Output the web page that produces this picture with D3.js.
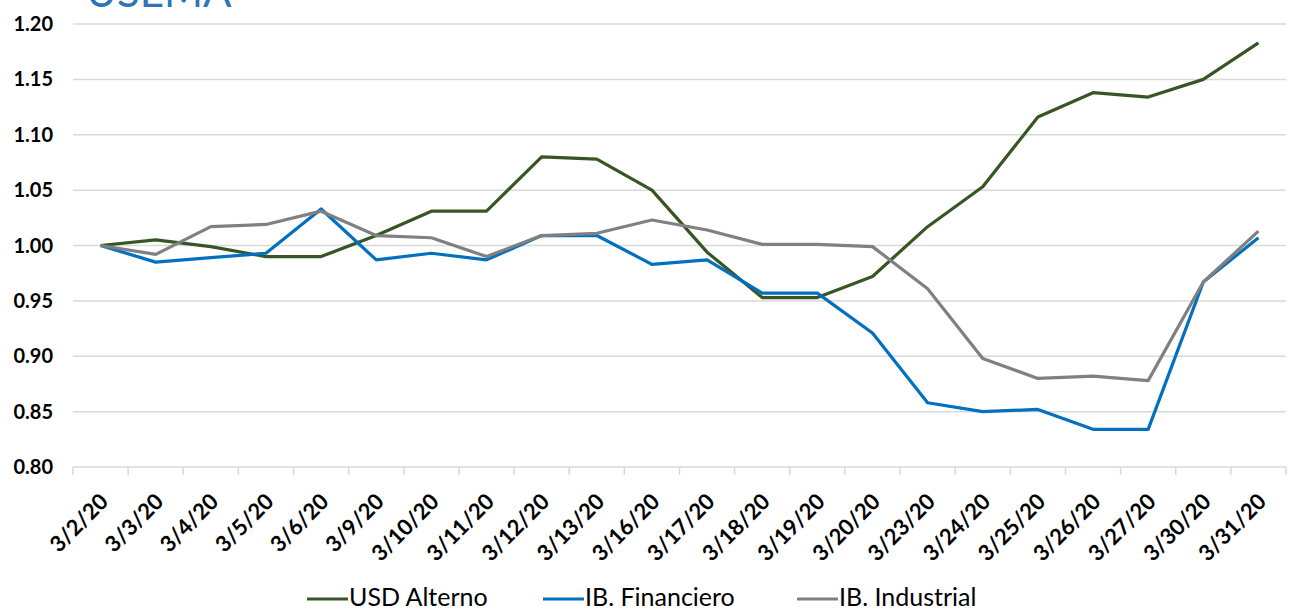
<!DOCTYPE html>
<html>
<head>
<meta charset="utf-8">
<script src="https://cdn.jsdelivr.net/npm/d3@7"></script>
<style>
  body { margin: 0; background: #ffffff; }
  svg { display: block; font-family: Lato, "Open Sans", sans-serif; }
</style>
</head>
<body>
<svg id="chart" width="1295" height="612"></svg>
<script>
const dates = ["3/2/20", "3/3/20", "3/4/20", "3/5/20", "3/6/20", "3/9/20", "3/10/20", "3/11/20",
    "3/12/20", "3/13/20", "3/16/20", "3/17/20", "3/18/20", "3/19/20", "3/20/20", "3/23/20",
    "3/24/20", "3/25/20", "3/26/20", "3/27/20", "3/30/20", "3/31/20"];

const usdAlterno = [1.000, 1.005, 0.999, 0.990, 0.990, 1.009, 1.031, 1.031, 1.080, 1.078, 1.050,
    0.994, 0.953, 0.953, 0.972, 1.017, 1.053, 1.116, 1.138, 1.134, 1.150, 1.183];
const ibFinanciero = [1.000, 0.985, 0.989, 0.993, 1.033, 0.987, 0.993, 0.987, 1.009, 1.009, 0.983,
    0.987, 0.957, 0.957, 0.921, 0.858, 0.850, 0.852, 0.834, 0.834, 0.967, 1.007];
const ibIndustrial = [1.000, 0.992, 1.017, 1.019, 1.031, 1.009, 1.007, 0.990, 1.009, 1.011, 1.023,
    1.014, 1.001, 1.001, 0.999, 0.961, 0.898, 0.880, 0.882, 0.878, 0.967, 1.013];

const yTicks = [0.80, 0.85, 0.90, 0.95, 1.00, 1.05, 1.10, 1.15, 1.20];

const seriesNames = ["USD Alterno", "IB. Financiero", "IB. Industrial"];
const seriesColors = ["#375623", "#0070c0", "#808080"];

const series = [usdAlterno, ibFinanciero, ibIndustrial].map((values, i) => ({
    name: seriesNames[i], color: seriesColors[i], values
}));

const svg = d3.select("#chart"),
    margin = { top: 24, right: 9, bottom: 145, left: 73 },
    width = +svg.attr("width"),
    height = +svg.attr("height"),
    chartWidth = width - margin.left - margin.right,
    chartHeight = height - margin.top - margin.bottom;

const chart = svg.append("g")
    .attr("transform", `translate(${margin.left},${margin.top})`);

const x = d3.scaleBand().domain(dates).range([0, chartWidth]);
const y = d3.scaleLinear().domain([0.80, 1.20]).range([chartHeight, 0]);

// title, cut off at the top edge as in the source image
svg.append("text")
    .attr("x", 86)
    .attr("y", 7)
    .style("font-size", "42px")
    .style("fill", "#2e75b6")
    .text("USEMA");

// gridlines
chart.append("g")
    .selectAll("line")
    .data(yTicks)
    .join("line")
    .attr("x1", 0)
    .attr("x2", chartWidth)
    .attr("y1", d => y(d))
    .attr("y2", d => y(d))
    .attr("stroke", "#d9d9d9")
    .attr("stroke-width", 1.5);

// y labels
chart.append("g")
    .selectAll("text")
    .data(yTicks)
    .join("text")
    .attr("x", -20)
    .attr("y", d => y(d))
    .attr("dy", "0.35em")
    .attr("text-anchor", "end")
    .style("font-size", "20px")
    .style("font-weight", "bold")
    .style("fill", "#000")
    .text(d => d.toFixed(2));

// x axis ticks
const tickPos = dates.map(d => x(d)).concat([chartWidth]);
chart.append("g")
    .selectAll("line")
    .data(tickPos)
    .join("line")
    .attr("x1", d => d)
    .attr("x2", d => d)
    .attr("y1", chartHeight)
    .attr("y2", chartHeight + 8)
    .attr("stroke", "#d9d9d9")
    .attr("stroke-width", 1.5);

chart.append("g")
    .selectAll("text")
    .data(dates)
    .join("text")
    .attr("transform", d => `translate(${x(d) + x.bandwidth() / 2 + 9},${chartHeight + 36}) rotate(-45)`)
    .attr("text-anchor", "end")
    .style("font-size", "22px")
    .style("font-weight", "bold")
    .style("fill", "#000")
    .text(d => d);

// lines
const line = d3.line()
    .x((d, i) => x(dates[i]) + x.bandwidth() / 2)
    .y(d => y(d));

chart.append("g")
    .selectAll("path")
    .data(series)
    .join("path")
    .attr("d", d => line(d.values))
    .attr("fill", "none")
    .attr("stroke", d => d.color)
    .attr("stroke-width", 3.2)
    .attr("stroke-linejoin", "round");

// legend
const legendX = [307, 543, 797];
const legend = svg.append("g");
series.forEach((s, i) => {
    const g = legend.append("g").attr("transform", `translate(${legendX[i]},599)`);
    g.append("line").attr("x1", 0).attr("x2", 41).attr("y1", 0).attr("y2", 0)
        .attr("stroke", s.color).attr("stroke-width", 3.2);
    g.append("text").attr("x", 42).attr("y", 7)
        .style("font-size", "25px")
        .style("fill", "#000")
        .text(s.name);
});
</script>
</body>
</html>
